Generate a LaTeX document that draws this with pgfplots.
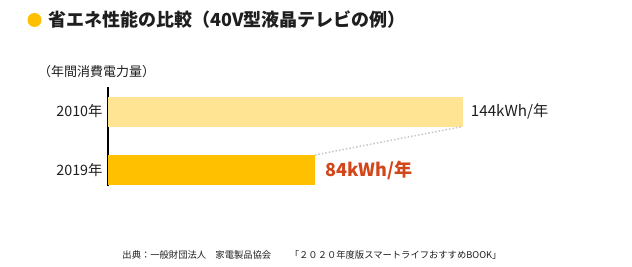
\documentclass[border=0pt]{standalone}
\usepackage{fontspec}
\setmainfont{Noto Sans CJK JP}
\usepackage{pgfplots}
\pgfplotsset{compat=1.18}
\definecolor{lightbar}{HTML}{FFE494}
\definecolor{darkbar}{HTML}{FFC000}
\definecolor{redlab}{HTML}{D2461A}
\definecolor{txt}{HTML}{1E1E1E}
\begin{document}
\begin{tikzpicture}[x=1pt,y=1pt]
\path[use as bounding box] (0,0) rectangle (632,267);
\fill[darkbar] (34.5,247) circle (7);
\node[anchor=west, inner sep=0, text=txt, font=\fontsize{18}{20}\selectfont\bfseries] at (48,247) {省エネ性能の比較（40V型液晶テレビの例）};
\node[anchor=west, inner sep=0, text=txt, font=\fontsize{13}{15}\selectfont] at (38,195) {（年間消費電力量）};
\begin{axis}[
  at={(108pt,81pt)}, anchor=south west,
  scale only axis, width=394.1pt, height=99pt,
  xmin=0, xmax=160, ymin=-0.2735, ymax=1.419,
  axis x line=none, axis y line*=left,
  y axis line style={black, line width=1.3pt},
  ytick={0,1}, yticklabels={2019年,2010年},
  major tick length=0pt,
  yticklabel style={font=\fontsize{14.3}{16}\selectfont, text=txt, xshift=-2pt},
  clip=false,
]
\addplot[xbar, bar width=30pt, fill=lightbar, draw=none,
  nodes near coords={144kWh/年},
  nodes near coords style={anchor=west, inner sep=0, xshift=8pt, font=\fontsize{15.2}{17}\selectfont, text=txt}]
  coordinates {(144,1)};
\addplot[xbar, bar width=30pt, fill=darkbar, draw=none,
  nodes near coords={84kWh/年},
  nodes near coords style={anchor=west, inner sep=0, xshift=10pt, font=\fontsize{18}{20}\selectfont\bfseries, text=redlab}]
  coordinates {(84,0)};
\addplot[sharp plot, draw=black!22, dotted, line width=1.5pt, mark=none] coordinates {(84,0.2564) (144,0.7436)};
\end{axis}
\node[inner sep=0, text=txt, font=\fontsize{9.3}{11}\selectfont] at (312,12) {出典：一般財団法人　家電製品協会　　「２０２０年度版スマートライフおすすめBOOK」};
\end{tikzpicture}
\end{document}
